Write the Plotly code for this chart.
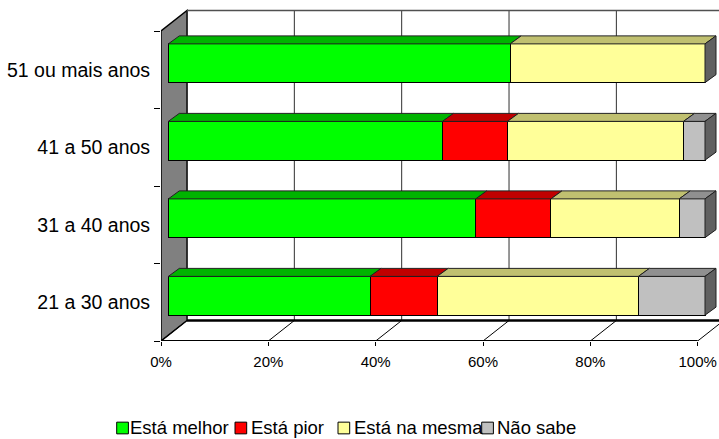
import plotly.graph_objects as go

# ---------------- data ----------------
categories = ["21 a 30 anos", "31 a 40 anos", "41 a 50 anos", "51 ou mais anos"]
series_names = ["Está melhor", "Está pior", "Está na mesma", "Não sabe"]
esta_melhor = [37.6, 57.3, 51.1, 63.7]
esta_pior = [12.5, 14.0, 12.1, 0.0]
esta_na_mesma = [37.5, 23.9, 32.8, 36.3]
nao_sabe = [12.4, 4.8, 4.0, 0.0]
x_tick_values = [0, 20, 40, 60, 80, 100]
x_tick_labels = ["0%", "20%", "40%", "60%", "80%", "100%"]

series_values = [esta_melhor, esta_pior, esta_na_mesma, nao_sabe]
front_colors = ["#00FF00", "#FF0000", "#FFFF99", "#C0C0C0"]
top_colors = ["#00B400", "#C00000", "#C0C070", "#909090"]
side_color = "#606060"

# ---------------- geometry (style) ----------------
W, H = 719, 439
ML, MR, MT, MB = 161, 0, 0, 98
PW, PH = W - ML - MR, H - MT - MB
PX_PER_PCT = 5.367
PX_PER_CAT = 77.5
x_max = PW / PX_PER_PCT
y_min = -0.5
y_max = y_min + PH / PX_PER_CAT

WALL_DX = 26 / PX_PER_PCT
WALL_DY = 20.5 / PX_PER_CAT
BAR_SHIFT_X = 7.3 / PX_PER_PCT
BAR_SHIFT_Y = 6.5 / PX_PER_CAT
BAR_DDX = 11 / PX_PER_PCT
BAR_DDY = 8 / PX_PER_CAT
BAR_W = 0.5
FONT = "Liberation Sans, Arial, sans-serif"

ypos = list(range(len(categories)))

fig = go.Figure()

# front faces of the stacked bars
for name, vals, col in zip(series_names, series_values, front_colors):
    fig.add_trace(go.Bar(
        name=name, y=ypos, x=vals, orientation="h", width=BAR_W,
        marker=dict(color=col, line=dict(color="black", width=1)),
        xaxis="x2", yaxis="y2", showlegend=False,
    ))

# top faces (3D effect), derived from data
cum = [0.0] * len(categories)
for name, vals, tcol in zip(series_names, series_values, top_colors):
    xs, ys = [], []
    for i, v in enumerate(vals):
        a, b = cum[i], cum[i] + v
        yt = ypos[i] + BAR_W / 2
        if v > 0:
            xs += [a, b, b + BAR_DDX, a + BAR_DDX, a, None]
            ys += [yt, yt, yt + BAR_DDY, yt + BAR_DDY, yt, None]
        cum[i] = b
    fig.add_trace(go.Scatter(
        x=xs, y=ys, mode="lines", fill="toself", fillcolor=tcol,
        line=dict(color="#202020", width=1), xaxis="x2", yaxis="y2",
        hoverinfo="skip", showlegend=False,
    ))

# right side faces at the end of each bar
xs, ys = [], []
for i in range(len(categories)):
    e = cum[i]
    yb, yt = ypos[i] - BAR_W / 2, ypos[i] + BAR_W / 2
    xs += [e, e + BAR_DDX, e + BAR_DDX, e, e, None]
    ys += [yb, yb + BAR_DDY, yt + BAR_DDY, yt, yb, None]
fig.add_trace(go.Scatter(
    x=xs, y=ys, mode="lines", fill="toself", fillcolor=side_color,
    line=dict(color="#202020", width=1), xaxis="x2", yaxis="y2",
    hoverinfo="skip", showlegend=False,
))

# ---------------- walls, floor, gridlines ----------------
shapes = []
y_lo, y_hi = -0.5, len(categories) - 0.5
# left wall
shapes.append(dict(
    type="path", xref="x", yref="y", layer="below",
    path=f"M 0,{y_lo} L 0,{y_hi} L {WALL_DX},{y_hi + WALL_DY} L {WALL_DX},{y_lo + WALL_DY} Z",
    fillcolor="#808080", line=dict(color="black", width=1.5),
))
for v in x_tick_values:
    # back wall vertical gridlines
    shapes.append(dict(type="line", xref="x", yref="y", layer="below",
                       x0=v + WALL_DX, x1=v + WALL_DX, y0=y_lo + WALL_DY, y1=y_hi + WALL_DY,
                       line=dict(color="#303030", width=1)))
    # floor gridlines
    shapes.append(dict(type="line", xref="x", yref="y", layer="below",
                       x0=v, x1=v + WALL_DX, y0=y_lo, y1=y_lo + WALL_DY,
                       line=dict(color="black", width=1)))
# back wall top edge
shapes.append(dict(type="line", xref="x", yref="y", layer="below",
                   x0=WALL_DX, x1=100 + WALL_DX, y0=y_hi + WALL_DY, y1=y_hi + WALL_DY,
                   line=dict(color="#505050", width=1.5)))
# floor back edge
shapes.append(dict(type="line", xref="x", yref="y", layer="below",
                   x0=WALL_DX, x1=100 + WALL_DX, y0=y_lo + WALL_DY, y1=y_lo + WALL_DY,
                   line=dict(color="black", width=2.5)))
# floor front edge (half of it is clipped by the plot edge)
shapes.append(dict(type="line", xref="x", yref="y", layer="below",
                   x0=0, x1=100, y0=y_lo, y1=y_lo,
                   line=dict(color="black", width=2)))

# ---------------- manual legend ----------------
def px_to_paper_x(px):
    return (px - ML) / PW

def py_to_paper_y(py):
    return (MT + PH - py) / PH

annotations = []
legend_swatch_x = [116.7, 235.0, 338.0, 481.7]
legend_text_x = [128.0, 248.5, 351.8, 494.8]
sw = 11.7
LEG_Y = 427.5
for name, col, sx, tx in zip(series_names, front_colors, legend_swatch_x, legend_text_x):
    shapes.append(dict(type="rect", xref="paper", yref="paper",
                       x0=px_to_paper_x(sx), x1=px_to_paper_x(sx + sw),
                       y0=py_to_paper_y(LEG_Y - sw / 2 + 0.5), y1=py_to_paper_y(LEG_Y + sw / 2 + 0.5),
                       fillcolor=col, line=dict(color="black", width=1)))
    annotations.append(dict(xref="paper", yref="paper", x=px_to_paper_x(tx), y=py_to_paper_y(LEG_Y),
                            xanchor="left", yanchor="middle", text=name, showarrow=False,
                            font=dict(family=FONT, size=18.5, color="black")))

fig.update_layout(
    width=W, height=H,
    margin=dict(l=ML, r=MR, t=MT, b=MB, pad=0),
    paper_bgcolor="white", plot_bgcolor="rgba(0,0,0,0)",
    barmode="stack", bargap=0.5,
    showlegend=False,
    font=dict(family=FONT, color="black"),
    shapes=shapes, annotations=annotations,
    xaxis=dict(range=[0, x_max], domain=[0, 1], anchor="y",
               tickmode="array", tickvals=x_tick_values, ticktext=x_tick_labels,
               ticks="outside", ticklen=4, tickcolor="black",
               tickfont=dict(size=15, family=FONT, color="black"),
               ticklabelstandoff=3,
               showgrid=False, zeroline=False, showline=False, fixedrange=True),
    yaxis=dict(range=[y_min, y_max], domain=[0, 1],
               tickmode="array", tickvals=ypos, ticktext=categories,
               ticks="outside", ticklen=6, tickcolor="rgba(0,0,0,0)",
               tickfont=dict(size=19.5, family=FONT, color="black"),
               minor=dict(tickvals=[k - 0.5 for k in range(len(categories) + 1)],
                          ticks="outside", ticklen=6, tickcolor="black", showgrid=False),
               showgrid=False, zeroline=False, showline=False, fixedrange=True),
    xaxis2=dict(range=[-BAR_SHIFT_X, x_max - BAR_SHIFT_X], overlaying="x", anchor="y2",
                visible=False, fixedrange=True),
    yaxis2=dict(range=[y_min - BAR_SHIFT_Y, y_max - BAR_SHIFT_Y], overlaying="y", anchor="x2",
                visible=False, fixedrange=True),
)

fig.write_html("out.html")
